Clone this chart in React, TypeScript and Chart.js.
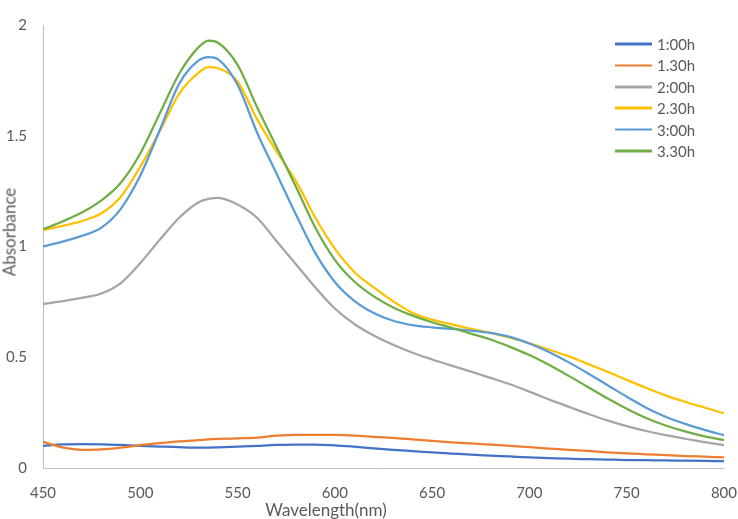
import React, { useEffect, useRef } from "react";
import { Chart, registerables } from "chart.js";

Chart.register(...registerables);

const wavelengths = [450, 460, 470, 480, 490, 500, 510, 520, 530, 535, 540, 550, 560, 570, 580, 590, 600, 610, 620, 630, 640, 650, 660, 670, 680, 690, 700, 710, 720, 730, 740, 750, 760, 770, 780, 790, 800];

const s100h = [0.100, 0.107, 0.108, 0.107, 0.104, 0.100, 0.097, 0.094, 0.092, 0.092, 0.093, 0.096, 0.100, 0.104, 0.106, 0.105, 0.102, 0.096, 0.089, 0.082, 0.076, 0.070, 0.065, 0.060, 0.056, 0.052, 0.048, 0.045, 0.042, 0.040, 0.038, 0.036, 0.035, 0.034, 0.033, 0.032, 0.031];
const s130h = [0.118, 0.093, 0.082, 0.084, 0.092, 0.103, 0.112, 0.120, 0.126, 0.129, 0.131, 0.134, 0.137, 0.146, 0.150, 0.150, 0.149, 0.146, 0.141, 0.136, 0.129, 0.122, 0.116, 0.111, 0.106, 0.100, 0.094, 0.088, 0.082, 0.077, 0.071, 0.066, 0.062, 0.058, 0.054, 0.051, 0.048];
const s200h = [0.74, 0.753, 0.768, 0.788, 0.835, 0.925, 1.03, 1.13, 1.20, 1.215, 1.22, 1.19, 1.13, 1.025, 0.92, 0.815, 0.72, 0.65, 0.598, 0.556, 0.52, 0.49, 0.462, 0.435, 0.407, 0.378, 0.345, 0.31, 0.277, 0.245, 0.215, 0.189, 0.167, 0.148, 0.132, 0.117, 0.103];
const s230h = [1.075, 1.093, 1.115, 1.15, 1.225, 1.36, 1.52, 1.69, 1.785, 1.81, 1.805, 1.745, 1.575, 1.43, 1.295, 1.13, 0.99, 0.885, 0.815, 0.752, 0.70, 0.67, 0.648, 0.628, 0.61, 0.588, 0.563, 0.535, 0.505, 0.47, 0.435, 0.398, 0.362, 0.328, 0.299, 0.273, 0.247];
const s300h = [1.00, 1.022, 1.048, 1.085, 1.17, 1.32, 1.525, 1.735, 1.84, 1.855, 1.845, 1.73, 1.515, 1.33, 1.145, 0.97, 0.84, 0.755, 0.70, 0.665, 0.645, 0.635, 0.628, 0.62, 0.61, 0.592, 0.562, 0.524, 0.478, 0.428, 0.375, 0.322, 0.272, 0.231, 0.199, 0.172, 0.148];
const s330h = [1.078, 1.113, 1.153, 1.208, 1.288, 1.42, 1.60, 1.78, 1.90, 1.93, 1.92, 1.82, 1.63, 1.45, 1.27, 1.085, 0.94, 0.842, 0.775, 0.725, 0.688, 0.658, 0.633, 0.607, 0.58, 0.547, 0.51, 0.466, 0.417, 0.366, 0.315, 0.268, 0.226, 0.192, 0.165, 0.143, 0.126];

const seriesLabels = ["1:00h", "1.30h", "2:00h", "2.30h", "3:00h", "3.30h"];
const seriesValues = [s100h, s130h, s200h, s230h, s300h, s330h];
const seriesColors = ["#4472C4", "#ED7D31", "#A5A5A5", "#FFC000", "#5B9BD5", "#70AD47"];

const xTickMin = 450;
const xTickMax = 800;
const xTickStep = 50;
const yTickMin = 0;
const yTickMax = 2;
const yTickStep = 0.5;

const xTitle = "Wavelength(nm)";
const yTitle = "Absorbance";

const FONT = "Lato, 'Open Sans', sans-serif";
const TEXT = "#595959";

export default function App() {
  const canvasRef = useRef<HTMLCanvasElement | null>(null);

  useEffect(() => {
    if (!canvasRef.current) return;
    const datasets = seriesLabels.map((label, i) => ({
      label,
      data: wavelengths.map((w, j) => ({ x: w, y: seriesValues[i][j] })),
      borderColor: seriesColors[i],
      backgroundColor: seriesColors[i],
      borderWidth: 2.25,
      pointRadius: 0,
      cubicInterpolationMode: "monotone" as const,
      fill: false,
      order: seriesLabels.length - 1 - i,
    }));
    const chart = new Chart(canvasRef.current, {
      type: "line",
      data: { datasets },
      options: {
        responsive: false,
        animation: false,
        layout: { padding: { top: 21, right: 11, left: 0, bottom: 0 } },
        plugins: { legend: { display: false }, tooltip: { enabled: false } },
        scales: {
          x: {
            type: "linear",
            min: xTickMin,
            max: xTickMax,
            grid: { display: false, drawTicks: true, tickLength: 15 },
            border: { display: true, color: "#BFBFBF", width: 1 },
            ticks: {
              stepSize: xTickStep,
              color: TEXT,
              font: { family: FONT, size: 15 },
              padding: 1,
              maxRotation: 0,
            },
            afterFit: (scale: any) => {
              scale.height = 51;
            },
          },
          y: {
            min: yTickMin,
            max: yTickMax,
            grid: { display: false, drawTicks: false },
            border: { display: true, color: "#BFBFBF", width: 1 },
            ticks: {
              stepSize: yTickStep,
              color: TEXT,
              font: { family: FONT, size: 15 },
              padding: 16,
              callback: (v: any) => String(Number(v)),
            },
            afterFit: (scale: any) => {
              scale.width = 43;
            },
          },
        },
      },
    });
    return () => chart.destroy();
  }, []);

  const legendTop = 44;
  const legendGap = 21.4;

  return (
    <div style={{ position: "fixed", left: 0, top: 0, width: 738, height: 519, background: "#fff", fontFamily: FONT }}>
      <canvas ref={canvasRef} width={738} height={519} style={{ position: "absolute", left: 0, top: 0, width: 738, height: 519 }} />
      <div
        style={{
          position: "absolute",
          left: 9,
          top: 232,
          transform: "translate(-50%, -50%) rotate(-90deg)",
          color: TEXT,
          fontSize: 17,
          whiteSpace: "nowrap",
          lineHeight: 1,
        }}
      >
        {yTitle}
      </div>
      <div
        style={{
          position: "absolute",
          left: 326,
          top: 509,
          transform: "translate(-50%, -50%)",
          color: TEXT,
          fontSize: 17,
          whiteSpace: "nowrap",
          lineHeight: 1,
        }}
      >
        {xTitle}
      </div>
      {seriesLabels.map((label, i) => (
        <div
          key={label}
          style={{
            position: "absolute",
            left: 615,
            top: legendTop + i * legendGap,
            transform: "translateY(-50%)",
            display: "flex",
            alignItems: "center",
            whiteSpace: "nowrap",
          }}
        >
          <div style={{ width: 37, height: 2.5, background: seriesColors[i] }} />
          <span style={{ marginLeft: 5, color: TEXT, fontSize: 15, lineHeight: 1 }}>{label}</span>
        </div>
      ))}
    </div>
  );
}
